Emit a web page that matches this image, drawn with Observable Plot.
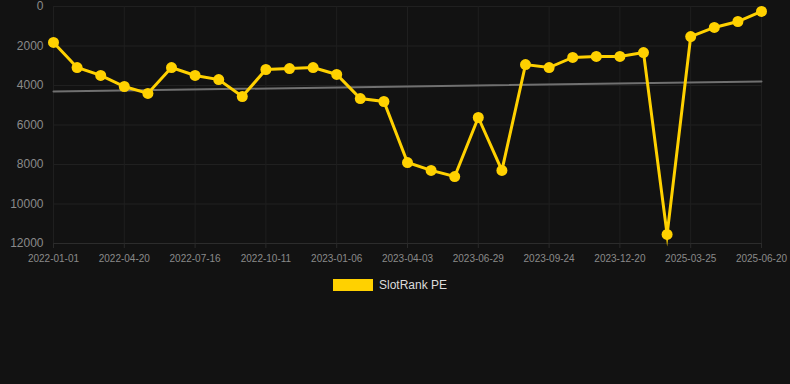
<!DOCTYPE html>
<html>
<head>
<meta charset="utf-8">
<script src="https://cdn.jsdelivr.net/npm/d3@7"></script>
<script src="https://cdn.jsdelivr.net/npm/@observablehq/plot@0.6"></script>
<style>
  html, body { margin: 0; padding: 0; background: #121212; }
  body { width: 790px; height: 384px; overflow: hidden; font-family: "Liberation Sans", Arial, sans-serif; }
  #legend { display: flex; justify-content: center; align-items: center; margin-top: 8px; margin-left: -10px; color: #dcdcdc; font-size: 12px; }
  #legend .sw { width: 40px; height: 12px; background: #FFD100; margin-right: 6px; }
</style>
</head>
<body>
<div id="chart"></div>
<div id="legend"><span class="sw"></span><span>SlotRank PE</span></div>
<script>
const dates = [
  "2022-01-01","2022-02-21","2022-03-22","2022-04-20","2022-05-19","2022-06-17",
  "2022-07-16","2022-08-14","2022-09-12","2022-10-11","2022-11-09","2022-12-08",
  "2023-01-06","2023-02-04","2023-03-05","2023-04-03","2023-05-02","2023-05-31",
  "2023-06-29","2023-07-28","2023-08-26","2023-09-24","2023-10-23","2023-11-21",
  "2023-12-20","2024-01-18","2024-02-16","2025-03-25","2025-04-23","2025-05-22",
  "2025-06-20"
];
const ranks = [
  1820, 3090, 3490, 4050, 4400, 3090,
  3490, 3700, 4560, 3190, 3140, 3090,
  3440, 4660, 4810, 7900, 8300, 8610,
  5620, 8300, 2940, 3090, 2580, 2530,
  2530, 2330, 11540, 1520, 1060, 760,
  250
];
const trendDates = ["2022-01-01", "2025-06-20"];
const trendValues = [4300, 3800];
const xTickLabels = ["2022-01-01","2022-04-20","2022-07-16","2022-10-11","2023-01-06","2023-04-03","2023-06-29","2023-09-24","2023-12-20","2025-03-25","2025-06-20"];
const yTicks = [0, 2000, 4000, 6000, 8000, 10000, 12000];

const data = dates.map((d, i) => ({date: d, rank: ranks[i]}));
const trend = trendDates.map((d, i) => ({date: d, rank: trendValues[i]}));

const chart = Plot.plot({
  width: 790,
  height: 270,
  marginLeft: 53,
  marginRight: 29,
  marginTop: 6,
  marginBottom: 27,
  style: { background: "#121212", fontFamily: "Liberation Sans, Arial, sans-serif", overflow: "visible" },
  x: { type: "point", domain: dates, padding: 0, round: false, label: null },
  y: { domain: [0, 12000], reverse: true, label: null },
  marks: [
    Plot.gridY(yTicks.slice(0, -1), { stroke: "#202020", strokeOpacity: 1 }),
    Plot.gridY(yTicks.slice(-1), { stroke: "#2c2c2c", strokeOpacity: 1 }),
    Plot.gridX(xTickLabels, { stroke: "#1f1f1f", strokeOpacity: 1 }),
    Plot.axisY(yTicks, { tickSize: 0, tickPadding: 10, fontSize: 12, fill: "#8a8a8a", tickFormat: d => String(d), label: null }),
    Plot.axisX(xTickLabels, { tickSize: 5, stroke: "#2a2a2a", tickPadding: 6, fontSize: 10, fill: "#8a8a8a", label: null }),
    Plot.line(trend, { x: "date", y: "rank", stroke: "#707070", strokeWidth: 2 }),
    Plot.line(data, { x: "date", y: "rank", stroke: "#FFD100", strokeWidth: 3, strokeLinejoin: "miter", strokeMiterlimit: 10 }),
    Plot.dot(data, { x: "date", y: "rank", r: 5.5, fill: "#FFD100", stroke: "none" })
  ]
});
document.getElementById("chart").appendChild(chart);
</script>
</body>
</html>
